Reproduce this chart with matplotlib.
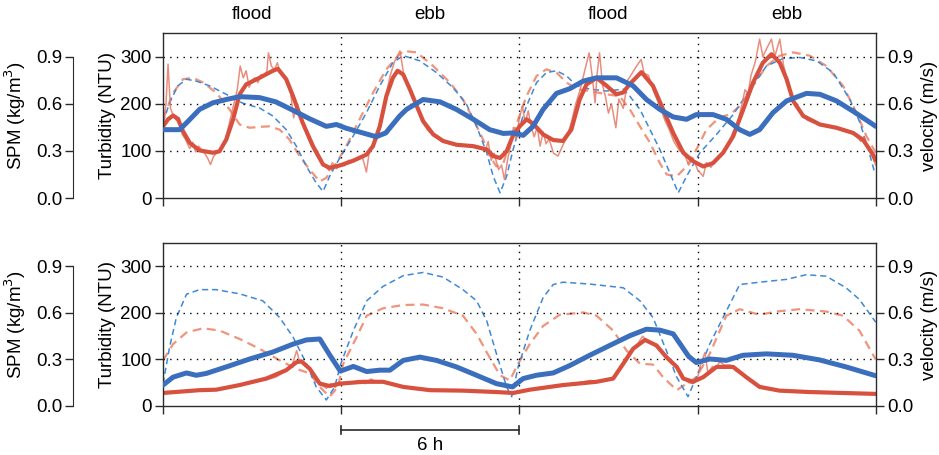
import matplotlib
matplotlib.use("Agg")
import matplotlib.pyplot as plt
import matplotlib.transforms as mtransforms

plt.rcParams['font.family'] = ['Liberation Sans', 'DejaVu Sans']
plt.rcParams['font.size'] = 13

# ---------------- data (time in hours) ----------------
phase_labels = ['flood', 'ebb', 'flood', 'ebb']
phase_edges = [0, 6, 12, 18, 24]

# top panel: turbidity (NTU), smoothed and raw
top_turb_h = [0, 0.17, 0.34, 0.5, 0.67, 0.9, 1.23, 1.68, 1.9, 2.13, 2.36, 2.58, 2.8, 3.25, 3.7, 3.87,
              4.15, 4.38, 4.7, 5.05, 5.39, 5.61, 5.95, 6.4, 6.85, 7.07, 7.3, 7.52, 7.74, 7.9, 8.09,
              8.31, 8.54, 8.76, 9.1, 9.43, 9.88, 10.45, 10.9, 11.12, 11.35, 11.57, 11.79, 12.01,
              12.24, 12.46, 12.8, 13.14, 13.47, 13.75, 14.03, 14.26, 14.6, 14.94, 15.27, 15.5,
              15.72, 16.11, 16.5, 16.84, 17.18, 17.52, 17.85, 18.19, 18.52, 18.86, 19.2, 19.54,
              19.87, 20.2, 20.49, 20.77, 21.0, 21.22, 21.56, 22.12, 22.68, 23.24, 23.58, 23.91, 24.0]
top_turb = [152, 167, 175, 168, 142, 117, 101, 96, 99, 124, 167, 220, 241, 255, 270, 274,
            252, 216, 160, 110, 71, 64, 69, 79, 92, 110, 152, 216, 255, 270, 262,
            231, 196, 163, 135, 121, 113, 110, 103, 89, 85, 99, 133, 152,
            167, 158, 135, 123, 121, 145, 209, 241, 255, 238, 220, 224,
            242, 267, 238, 188, 138, 96, 78, 67, 74, 96, 131, 188,
            245, 287, 305, 287, 252, 206, 174, 156, 149, 138, 123, 92, 80]

top_raw_h = [0.0, 0.1, 0.17, 0.25, 0.35, 0.45, 0.55, 0.65, 0.75, 0.9, 1.0, 1.1, 1.2, 1.3, 1.4, 1.5,
             1.6, 1.7, 1.8, 1.9, 2.0, 2.1, 2.2, 2.35, 2.5, 2.6, 2.7, 2.8, 2.9, 3.0, 3.1, 3.2, 3.3,
             3.4, 3.5, 3.55, 3.65, 3.75, 3.85, 3.95, 4.05, 4.15, 4.3, 4.4, 4.5, 4.6, 4.75, 4.9,
             5.05, 5.2, 5.35, 5.5, 5.6, 5.7, 5.85, 5.95, 6.1, 6.25, 6.4, 6.55, 6.7, 6.85, 6.95,
             7.1, 7.2, 7.35, 7.5, 7.65, 7.8, 7.98, 8.1, 8.2, 8.35, 8.5, 8.7, 8.9, 9.1, 9.3, 9.5,
             9.7, 9.9, 10.1, 10.3, 10.5, 10.7, 10.85, 10.95, 11.05, 11.15, 11.3, 11.4, 11.5, 11.6,
             11.7, 11.8, 11.9, 12.0, 12.1, 12.2, 12.3, 12.4, 12.5, 12.6, 12.7, 12.8, 12.9, 13.0,
             13.15, 13.3, 13.45, 13.6, 13.75, 13.9, 14.05, 14.2, 14.35, 14.45, 14.55, 14.62, 14.7,
             14.8, 14.9, 15.0, 15.1, 15.25, 15.35, 15.5, 15.65, 15.8, 15.95, 16.1, 16.2, 16.35,
             16.5, 16.7, 16.9, 17.05, 17.2, 17.4, 17.55, 17.7, 17.85, 18.0, 18.19, 18.3, 18.45,
             18.6, 18.75, 18.9, 19.05, 19.2, 19.35, 19.5, 19.6, 19.7, 19.8, 19.95, 20.09, 20.2,
             20.35, 20.49, 20.6, 20.77, 20.9, 21.0, 21.15, 21.3, 21.5, 21.7, 21.9, 22.1, 22.3,
             22.5, 22.7, 22.9, 23.1, 23.3, 23.5, 23.6, 23.75, 23.9, 24.0]
top_raw = [150, 200, 284, 190, 175, 165, 170, 135, 125, 105, 118, 98, 110, 102, 95, 85,
           71, 88, 95, 100, 112, 125, 150, 190, 230, 280, 255, 270, 235, 250, 255, 245, 262,
           258, 270, 308, 280, 272, 287, 265, 262, 245, 222, 170, 200, 175, 150, 125,
           105, 88, 72, 65, 58, 75, 62, 72, 68, 80, 78, 84, 90, 55, 100,
           115, 125, 165, 215, 260, 290, 312, 265, 245, 220, 200, 165, 145, 132, 125, 118,
           115, 112, 110, 110, 107, 105, 100, 120, 80, 95, 60, 70, 39, 80,
           110, 150, 125, 170, 195, 160, 185, 150, 130, 150, 110, 140, 115, 125,
           95, 89, 110, 130, 160, 200, 230, 270, 308, 260, 202, 265, 308,
           240, 215, 180, 200, 149, 210, 190, 250, 265, 280, 294, 265, 260,
           230, 200, 165, 145, 120, 100, 95, 70, 85, 60, 46, 75, 65,
           80, 90, 100, 115, 140, 160, 200, 230, 220, 260, 290, 337, 300,
           320, 337, 300, 337, 280, 255, 215, 195, 178, 165, 160, 157, 152,
           150, 148, 142, 140, 135, 120, 130, 105, 85, 70]

# top panel: SPM (kg/m3)
top_spm_h = [0, 0.56, 0.8, 1.23, 1.68, 2.13, 2.58, 3.25, 3.8, 4.38, 4.94, 5.5, 5.84, 6.17, 6.62,
             7.18, 7.5, 7.97, 8.2, 8.76, 9.33, 9.88, 10.45, 11.0, 11.46, 11.79, 12.13, 12.46,
             12.8, 13.25, 13.7, 14.15, 14.6, 15.27, 15.83, 16.28, 16.73, 17.18, 17.63, 17.96,
             18.52, 18.97, 19.42, 19.76, 20.09, 20.54, 21.0, 21.67, 22.12, 22.68, 23.24, 23.91, 24.0]
top_spm = [0.435, 0.435, 0.48, 0.564, 0.606, 0.627, 0.645, 0.639, 0.612, 0.558, 0.504, 0.456,
           0.468, 0.444, 0.42, 0.39, 0.414, 0.522, 0.564, 0.627, 0.612, 0.564, 0.501, 0.435,
           0.411, 0.414, 0.399, 0.456, 0.564, 0.666, 0.696, 0.744, 0.765, 0.765, 0.714, 0.627,
           0.564, 0.516, 0.501, 0.531, 0.531, 0.501, 0.435, 0.405, 0.435, 0.543, 0.618, 0.666,
           0.66, 0.618, 0.552, 0.468, 0.456]

# top panel: velocity (m/s), two series
top_vel_a_h = [0, 0.22, 0.5, 0.79, 1.12, 1.57, 2.13, 2.69, 3.25, 3.7, 4.15, 4.49, 4.83, 5.16, 5.39,
               5.61, 5.95, 6.4, 6.85, 7.3, 7.74, 8.09, 8.65, 9.21, 9.77, 10.22, 10.56, 10.9, 11.12,
               11.35, 11.57, 11.79, 12.01, 12.24, 12.58, 12.91, 13.25, 13.59, 13.93, 14.37, 14.94,
               15.5, 15.72, 16.06, 16.4, 16.73, 17.07, 17.35, 17.63, 18.08, 18.64, 19.2, 19.76,
               20.32, 20.88, 21.45, 22.01, 22.57, 23.13, 23.47, 23.75, 23.97]
top_vel_a = [0.48, 0.606, 0.714, 0.756, 0.744, 0.714, 0.66, 0.603, 0.573, 0.522, 0.435, 0.33, 0.201,
             0.096, 0.042, 0.138, 0.255, 0.393, 0.543, 0.714, 0.861, 0.906, 0.873, 0.798, 0.702,
             0.597, 0.456, 0.288, 0.138, 0.033, 0.138, 0.309, 0.456, 0.585, 0.735, 0.798, 0.81,
             0.777, 0.714, 0.693, 0.681, 0.693, 0.648, 0.564, 0.435, 0.309, 0.159, 0.033, 0.138,
             0.288, 0.405, 0.531, 0.69, 0.84, 0.888, 0.894, 0.873, 0.798, 0.627, 0.48, 0.309, 0.159]

top_vel_b_h = [0, 0.34, 0.67, 1.01, 1.35, 1.8, 2.24, 2.58, 2.92, 3.25, 3.59, 3.93, 4.26, 4.6, 4.94,
               5.28, 5.5, 5.84, 6.17, 6.62, 7.07, 7.52, 7.86, 8.09, 8.54, 9.1, 9.66, 10.1, 10.45,
               10.78, 11.0, 11.23, 11.46, 11.68, 11.96, 12.24, 12.58, 12.91, 13.25, 13.59, 13.93,
               14.37, 14.94, 15.38, 15.72, 16.06, 16.4, 16.73, 16.96, 17.3, 17.63, 17.96, 18.3,
               18.75, 19.09, 19.42, 19.87, 20.32, 20.77, 21.22, 21.78, 22.34, 22.9, 23.35, 23.69, 24.0]
top_vel_b = [0.501, 0.669, 0.756, 0.765, 0.735, 0.669, 0.564, 0.468, 0.447, 0.453, 0.456, 0.435,
             0.372, 0.267, 0.18, 0.105, 0.129, 0.222, 0.33, 0.501, 0.669, 0.819, 0.894, 0.936,
             0.927, 0.84, 0.735, 0.627, 0.501, 0.372, 0.267, 0.201, 0.222, 0.351, 0.501, 0.648,
             0.777, 0.819, 0.798, 0.735, 0.693, 0.681, 0.66, 0.648, 0.564, 0.456, 0.351, 0.222,
             0.15, 0.138, 0.201, 0.309, 0.435, 0.516, 0.531, 0.585, 0.714, 0.84, 0.906, 0.927,
             0.906, 0.84, 0.714, 0.543, 0.393, 0.288]

# bottom panel: turbidity (NTU), smoothed and raw
bot_turb_h = [0, 1.23, 1.79, 2.58, 3.48, 4.15, 4.49, 4.66, 4.94, 5.28, 5.61, 5.95, 6.74, 7.41,
              8.09, 8.99, 10.1, 11.23, 11.79, 12.35, 13.47, 14.6, 15.16, 15.5, 15.83, 16.23,
              16.62, 16.95, 17.3, 17.52, 17.85, 18.19, 18.64, 19.2, 19.64, 20.09, 20.76, 21.77,
              22.88, 24.0]
bot_turb = [28, 34, 35, 45, 59, 77, 94, 96, 80, 48, 43, 48, 52, 52,
            41, 34, 33, 30, 28, 35, 45, 52, 59, 91, 123, 142,
            130, 105, 84, 59, 52, 62, 84, 84, 62, 41, 33, 30,
            28, 26]

bot_raw_h = [0, 0.5, 1, 1.5, 2, 2.5, 3, 3.5, 3.8, 4.0, 4.2, 4.35, 4.5, 4.6, 4.75, 4.9, 5.05, 5.2,
             5.35, 5.5, 5.65, 5.8, 5.95, 6.1, 6.3, 6.6, 6.8, 7.0, 7.2, 7.4, 7.7, 8.0, 8.5, 9, 9.5,
             10, 10.5, 11, 11.5, 11.8, 12.0, 12.4, 13, 13.5, 14, 14.4, 14.6, 15, 15.2, 15.4, 15.6,
             15.8, 16.0, 16.15, 16.3, 16.5, 16.7, 16.9, 17.1, 17.3, 17.5, 17.7, 17.85, 18.0, 18.1,
             18.25, 18.35, 18.5, 18.6, 18.75, 18.9, 19.1, 19.3, 19.5, 19.7, 20.0, 20.5, 21, 22, 23, 24]
bot_raw = [30, 32, 33, 35, 37, 44, 50, 57, 62, 70, 78, 88, 119, 95, 92, 85, 70, 55,
           45, 38, 48, 40, 52, 47, 50, 55, 48, 58, 52, 54, 48, 42, 38, 34, 33,
           33, 32, 31, 29, 25, 32, 36, 42, 46, 50, 55, 52, 56, 62, 80, 100,
           120, 135, 150, 140, 135, 120, 108, 95, 82, 62, 50, 48, 60, 88,
           115, 70, 85, 80, 95, 88, 88, 75, 68, 58, 45, 36, 32, 30, 28, 26]

# bottom panel: SPM (kg/m3)
bot_spm_h = [0, 0.34, 0.79, 1.12, 1.46, 2.13, 2.92, 3.7, 4.38, 4.83, 5.28, 5.61, 5.97, 6.41, 6.86,
             7.3, 7.64, 8.09, 8.65, 9.21, 9.88, 10.56, 11.23, 11.77, 12.13, 12.57, 13.14, 13.7,
             14.37, 15.04, 15.72, 16.28, 16.73, 17.18, 17.45, 17.7, 17.96, 18.41, 18.97, 19.53,
             20.32, 21.21, 22.11, 23.0, 24.0]
bot_spm = [0.135, 0.186, 0.213, 0.198, 0.21, 0.252, 0.303, 0.348, 0.399, 0.426, 0.432, 0.33,
           0.225, 0.255, 0.222, 0.231, 0.231, 0.294, 0.315, 0.294, 0.252, 0.198, 0.144, 0.123,
           0.177, 0.198, 0.213, 0.261, 0.327, 0.39, 0.453, 0.495, 0.489, 0.465, 0.39, 0.32, 0.28,
           0.303, 0.294, 0.327, 0.336, 0.327, 0.297, 0.252, 0.195]

# bottom panel: velocity (m/s), two series
bot_vel_a_h = [0, 0.22, 0.45, 0.79, 1.23, 1.79, 2.58, 3.36, 3.93, 4.38, 4.83, 5.16, 5.5, 5.78, 6.0,
               6.41, 6.86, 7.41, 8.09, 8.76, 9.43, 10.1, 10.56, 10.9, 11.23, 11.57, 11.74, 11.96,
               12.35, 12.8, 13.14, 13.47, 14.37, 15.5, 16.06, 16.5, 16.95, 17.3, 17.68, 17.96,
               18.41, 18.97, 19.42, 20.09, 20.99, 21.66, 22.33, 23.0, 23.45, 24.0]
bot_vel_a = [0.144, 0.378, 0.57, 0.72, 0.75, 0.75, 0.723, 0.678, 0.57, 0.444, 0.273, 0.123, 0.039,
             0.123, 0.28, 0.486, 0.678, 0.771, 0.84, 0.861, 0.831, 0.75, 0.678, 0.549, 0.336,
             0.123, 0.06, 0.252, 0.486, 0.699, 0.783, 0.798, 0.786, 0.762, 0.678, 0.57, 0.357,
             0.186, 0.06, 0.186, 0.399, 0.612, 0.783, 0.798, 0.816, 0.846, 0.837, 0.762, 0.687, 0.54]

bot_vel_b_h = [0, 0.34, 0.79, 1.35, 1.91, 2.58, 3.25, 3.93, 4.49, 4.94, 5.28, 5.61, 5.89, 6.07,
               6.52, 6.86, 7.41, 8.09, 8.76, 9.43, 10.1, 10.56, 11.0, 11.35, 11.68, 11.96, 12.35,
               12.8, 13.36, 14.15, 14.6, 15.16, 15.61, 16.06, 16.5, 16.84, 17.3, 17.63, 17.96,
               18.41, 18.97, 19.42, 20.09, 20.65, 21.43, 22.33, 22.9, 23.45, 24.0]
bot_vel_b = [0.294, 0.399, 0.474, 0.501, 0.486, 0.432, 0.369, 0.294, 0.24, 0.21, 0.123, 0.06,
             0.123, 0.273, 0.444, 0.582, 0.63, 0.651, 0.654, 0.63, 0.582, 0.465, 0.312, 0.198,
             0.165, 0.273, 0.399, 0.516, 0.588, 0.603, 0.582, 0.486, 0.357, 0.273, 0.267, 0.186,
             0.102, 0.144, 0.186, 0.336, 0.582, 0.624, 0.588, 0.609, 0.624, 0.609, 0.582, 0.486, 0.3]

# ---------------- styles ----------------
C_BLUE = '#3b6fbd'
C_BLUE_D = '#3f88d8'
C_RED = '#d8503e'
C_RED_RAW = '#e57a68'
C_RED_D = '#f0947c'
C_AX = '#2b2b2b'
DOTS = (0, (1, 3.8))

NTU_MAX = 350
UNIT_MAX = NTU_MAX * 0.003
TICK_FS = 13.5
LABEL_FS = 13.5


def draw_panel(ax, turb_h, turb, raw_h, raw, spm_h, spm, va_h, va, vb_h, vb):
    ax.set_xlim(0, 24)
    ax.set_ylim(0, NTU_MAX)
    ax.patch.set_visible(False)

    ax_vel = ax.twinx()
    ax_vel.set_ylim(0, UNIT_MAX)
    ax_spm = ax.twinx()
    ax_spm.set_ylim(0, UNIT_MAX)

    # layering: velocity lines at the back, turbidity, SPM on top
    ax_vel.set_zorder(0)
    ax.set_zorder(1)
    ax_spm.set_zorder(2)

    ax_vel.plot(vb_h, vb, color=C_RED_D, lw=1.6, dashes=(4, 2.5))
    ax_vel.plot(va_h, va, color=C_BLUE_D, lw=1.1, dashes=(4, 2.5))

    for y in (100, 200, 300):
        ax.axhline(y, color='black', lw=1.0, ls=DOTS, zorder=0)
    for x in phase_edges[1:-1]:
        ax.axvline(x, color='black', lw=1.0, ls=DOTS, zorder=0)

    ax.plot(raw_h, raw, color=C_RED_RAW, lw=1.1, alpha=0.85)
    ax.plot(turb_h, turb, color=C_RED, lw=3.0, solid_capstyle='round', solid_joinstyle='round')
    ax_spm.plot(spm_h, spm, color=C_BLUE, lw=3.6, solid_capstyle='round', solid_joinstyle='round')

    # turbidity on the left of the box
    ax.set_yticks([0, 100, 200, 300])
    ax.set_xticks(phase_edges)
    ax.set_xticklabels([])
    ax.tick_params(axis='both', direction='out', length=6, width=1, color=C_AX,
                   labelsize=TICK_FS, pad=2)
    ax.set_ylabel('Turbidity (NTU)', fontsize=LABEL_FS, labelpad=3)
    for s in ax.spines.values():
        s.set_color(C_AX)
        s.set_linewidth(1.0)

    # velocity on the right
    ax_vel.set_yticks([0.0, 0.3, 0.6, 0.9])
    ax_vel.set_yticklabels(['0.0', '0.3', '0.6', '0.9'])
    ax_vel.tick_params(axis='y', direction='out', length=6, width=1, color=C_AX,
                       labelsize=TICK_FS, pad=2)
    ax_vel.set_ylabel('velocity (m/s)', fontsize=LABEL_FS, labelpad=6)
    for s in ax_vel.spines.values():
        s.set_visible(False)

    # SPM on an offset axis further left
    for name, s in ax_spm.spines.items():
        s.set_visible(name == 'left')
    ax_spm.spines['left'].set_position(('axes', -0.126))
    ax_spm.spines['left'].set_bounds(0, 0.9)
    ax_spm.spines['left'].set_color(C_AX)
    ax_spm.yaxis.tick_left()
    ax_spm.yaxis.set_label_position('left')
    ax_spm.set_yticks([0.0, 0.3, 0.6, 0.9])
    ax_spm.set_yticklabels(['0.0', '0.3', '0.6', '0.9'])
    ax_spm.tick_params(axis='y', direction='out', length=6, width=1, color=C_AX,
                       labelsize=TICK_FS, pad=2)
    ax_spm.set_ylabel('SPM (kg/m$^3$)', fontsize=LABEL_FS, labelpad=6)


fig = plt.figure(figsize=(9.39, 4.55), dpi=100)
ax1 = fig.add_axes([0.1736, 0.5648, 0.759, 0.3626])
ax2 = fig.add_axes([0.1736, 0.1077, 0.759, 0.358])

draw_panel(ax1, top_turb_h, top_turb, top_raw_h, top_raw, top_spm_h, top_spm,
           top_vel_a_h, top_vel_a, top_vel_b_h, top_vel_b)
draw_panel(ax2, bot_turb_h, bot_turb, bot_raw_h, bot_raw, bot_spm_h, bot_spm,
           bot_vel_a_h, bot_vel_a, bot_vel_b_h, bot_vel_b)

# phase labels above the top panel
top_trans = mtransforms.blended_transform_factory(ax1.transData, ax1.transAxes)
for i, lab in enumerate(phase_labels):
    xc = (phase_edges[i] + phase_edges[i + 1]) / 2
    ax1.text(xc, 1.11, lab, transform=top_trans, ha='center', va='center', fontsize=LABEL_FS)

# 6 h scale bar under the bottom panel
trans = mtransforms.blended_transform_factory(ax2.transData, ax2.transAxes)
ax2.plot([6, 12], [-0.147, -0.147], color=C_AX, lw=1.2, transform=trans, clip_on=False)
for x in (6, 12):
    ax2.plot([x, x], [-0.125, -0.17], color=C_AX, lw=1.2, transform=trans, clip_on=False)
ax2.text(9, -0.24, '6 h', transform=trans, ha='center', va='center', fontsize=LABEL_FS)

fig.savefig('out.png', dpi=100)
